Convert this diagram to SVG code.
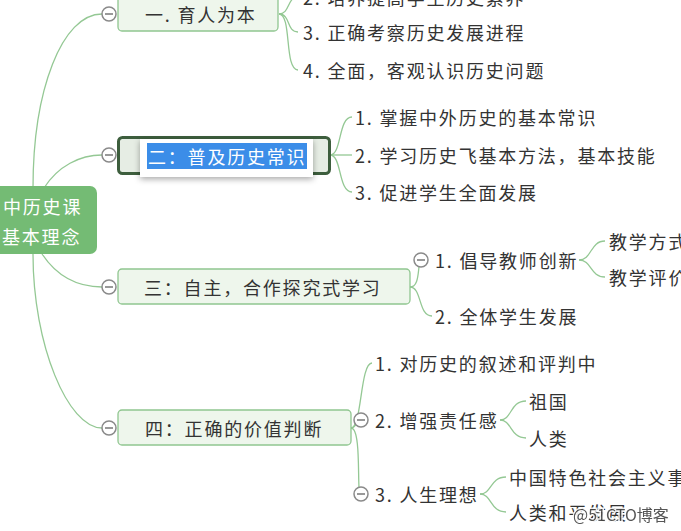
<svg xmlns="http://www.w3.org/2000/svg" width="681" height="531" viewBox="0 0 681 531">
<defs>
<style>
text{font-family:"Noto Sans CJK SC","Noto Sans",sans-serif;font-size:18px;letter-spacing:1.8px;fill:#333;dominant-baseline:central}
.box{fill:#eef6ec;stroke:#90c690;stroke-width:1.3}
.edge{fill:none;stroke:#94c894;stroke-width:1.3}
.tog circle{fill:#fff;stroke:#8a8a8a;stroke-width:1.5}
.tog line{stroke:#777;stroke-width:1.5}
.wt{fill:#fff}
</style>
<filter id="sh" x="-20%" y="-40%" width="140%" height="180%">
<feDropShadow dx="0" dy="2" stdDeviation="3" flood-color="#000" flood-opacity="0.35"/>
</filter>
</defs>
<rect width="681" height="531" fill="#fff"/>

<g id="connectors">
<path class="edge" d="M33 188 C33 90 62 14 102 14"/>
<path class="edge" d="M44 188 C58 166 80 155 102 155"/>
<path class="edge" d="M42 254 C58 278 80 287 102 287"/>
<path class="edge" d="M33 254 C33 345 68 428 102 428"/>
<path class="edge" d="M279 14 C290 14 287 -3 298 -3"/>
<path class="edge" d="M279 14 C291 14 286 32 298 32"/>
<path class="edge" d="M279 14 C292 14 284 70 298 70"/>
<path class="edge" d="M330 155 C342 155 338 117 352 117"/>
<path class="edge" d="M330 155 L352 155"/>
<path class="edge" d="M330 155 C342 155 338 192 352 192"/>
<path class="edge" d="M410 287 C418 287 418 274 419 267"/>
<path class="edge" d="M410 287 C422 287 418 316 432 316"/>
<path class="edge" d="M579 260 C592 260 590 241 605 241"/>
<path class="edge" d="M579 260 C592 260 590 277 605 277"/>
<path class="edge" d="M351 428 C362 428 360 363 372 363"/>
<path class="edge" d="M351 428 C354 428 355 426 356 424"/>
<path class="edge" d="M351 428 C360 428 358 472 359 487"/>
<path class="edge" d="M500 420 C512 420 510 401 526 401"/>
<path class="edge" d="M500 420 C512 420 510 438 526 438"/>
<path class="edge" d="M480 494 C492 494 490 477 506 477"/>
<path class="edge" d="M480 494 C492 494 490 512 506 512"/>
</g>

<g id="root">
<rect x="-10" y="186" width="107" height="68" rx="7" fill="#74bb74"/>
<text x="3" y="206" style="fill:#fff">中历史课</text>
<text x="2" y="236" style="fill:#fff">基本理念</text>
</g>

<g id="b1">
<rect class="box" x="118" y="-10" width="160" height="41" rx="4"/>
<text x="145" y="14">一. 育人为本</text>
<g class="tog"><circle cx="109" cy="14" r="7"/><line x1="105" y1="14" x2="113" y2="14"/></g>
</g>
<g id="b1c1"><text x="303" y="-3">2. 培养提高学生历史素养</text></g>
<g id="b1c2"><text x="303" y="32">3. 正确考察历史发展进程</text></g>
<g id="b1c3"><text x="303" y="70">4. 全面，客观认识历史问题</text></g>

<g id="b2">
<rect x="118.5" y="137.5" width="211" height="36" rx="4" fill="#e6ede4" stroke="#3d5e3d" stroke-width="3"/>
<rect x="140" y="139" width="173" height="38" fill="#fff" filter="url(#sh)"/>
<rect x="147" y="143" width="160" height="26" fill="#3b8de8"/>
<text x="148" y="156" style="fill:#fff">二：普及历史常识</text>
<g class="tog"><circle cx="109" cy="155" r="7"/><line x1="105" y1="155" x2="113" y2="155"/></g>
</g>
<g id="b2c1"><text x="355" y="117">1. 掌握中外历史的基本常识</text></g>
<g id="b2c2"><text x="355" y="155">2. 学习历史飞基本方法，基本技能</text></g>
<g id="b2c3"><text x="355" y="192">3. 促进学生全面发展</text></g>

<g id="b3">
<rect class="box" x="118" y="269" width="292" height="35" rx="4"/>
<text x="144" y="287">三：自主，合作探究式学习</text>
<g class="tog"><circle cx="109" cy="287" r="7"/><line x1="105" y1="287" x2="113" y2="287"/></g>
</g>
<g id="b3c1">
<text x="435" y="260">1. 倡导教师创新</text>
<g class="tog"><circle cx="421" cy="260" r="7"/><line x1="417" y1="260" x2="425" y2="260"/></g>
</g>
<g id="b3c1a"><text x="609" y="241">教学方式</text></g>
<g id="b3c1b"><text x="609" y="277">教学评价</text></g>
<g id="b3c2"><text x="435" y="316">2. 全体学生发展</text></g>

<g id="b4">
<rect class="box" x="118" y="410" width="233" height="35" rx="4"/>
<text x="145" y="428">四：正确的价值判断</text>
<g class="tog"><circle cx="109" cy="428" r="7"/><line x1="105" y1="428" x2="113" y2="428"/></g>
</g>
<g id="b4c1"><text x="375" y="363">1. 对历史的叙述和评判中</text></g>
<g id="b4c2">
<text x="375" y="420">2. 增强责任感</text>
<g class="tog"><circle cx="361" cy="420" r="7"/><line x1="357" y1="420" x2="365" y2="420"/></g>
</g>
<g id="b4c2a"><text x="529" y="401">祖国</text></g>
<g id="b4c2b"><text x="529" y="438">人类</text></g>
<g id="b4c3">
<text x="375" y="494">3. 人生理想</text>
<g class="tog"><circle cx="361" cy="494" r="7"/><line x1="357" y1="494" x2="365" y2="494"/></g>
</g>
<g id="b4c3a"><text x="509" y="477">中国特色社会主义事业</text></g>
<g id="b4c3b"><text x="509" y="512">人类和平发展</text></g>

<g id="watermark">
<text x="573" y="514" style="font-size:16px;letter-spacing:0;fill:#444;stroke:#fff;stroke-width:3;paint-order:stroke;opacity:0.9">@51CTO博客</text>
</g>
</svg>
